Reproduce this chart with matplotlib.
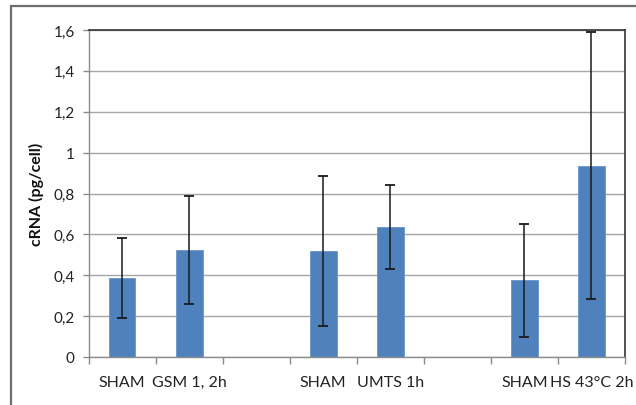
import matplotlib
matplotlib.use("Agg")
import matplotlib.pyplot as plt
from matplotlib.patches import Rectangle
from matplotlib.ticker import FixedLocator, FuncFormatter

# Group labels along the x axis (blank slots separate the three experiments)
categories = ["SHAM", "GSM 1, 2h", "", "SHAM", "UMTS 1h", "", "SHAM", "HS 43°C 2h"]
# Mean cRNA per cell and its error (None = empty slot)
means = [0.385, 0.525, None, 0.52, 0.635, None, 0.375, 0.935]
errors = [0.195, 0.265, None, 0.367, 0.205, None, 0.277, 0.653]
y_ticks = [0, 0.2, 0.4, 0.6, 0.8, 1.0, 1.2, 1.4, 1.6]

plt.rcParams["font.family"] = ["Lato", "DejaVu Sans"]

fig = plt.figure(figsize=(6.36, 4.06), dpi=100)
fig.patch.set_facecolor("white")
# outer chart frame
fig.add_artist(Rectangle((11 / 636, -0.05), 1.2, 1 - 7 / 406 + 0.05,
                         transform=fig.transFigure, fill=False,
                         edgecolor="#6e6e6e", linewidth=1.6))

ax = fig.add_axes([88.5 / 636, 1 - 358 / 406, (625 - 88.5) / 636, (358 - 31) / 406])

xs = [i for i, m in enumerate(means) if m is not None]
vals = [m for m in means if m is not None]
errs = [e for e in errors if e is not None]

ax.bar(xs, vals, width=0.4, color="#4F81BD", edgecolor="#6a95c9",
       linewidth=0.6, zorder=2)
ax.errorbar(xs, vals, yerr=errs, fmt="none", ecolor="#1a1a1a",
            elinewidth=1.1, capsize=3.5, capthick=1.3, zorder=3)

ax.set_xlim(-0.5, len(categories) - 0.5)
ax.set_ylim(0, 1.6)
ax.yaxis.set_major_locator(FixedLocator(y_ticks))
ax.yaxis.set_major_formatter(FuncFormatter(
    lambda v, p: ("%g" % round(v, 1)).replace(".", ",")))
ax.grid(axis="y", color="#a6a6a6", linewidth=1.0, zorder=0)
ax.set_axisbelow(True)

# category boundary ticks, labels at category centres
ax.set_xticks([i - 0.5 for i in range(len(categories) + 1)])
ax.set_xticklabels([])
ax.set_xticks(range(len(categories)), minor=True)
ax.set_xticklabels(categories, minor=True, fontsize=11.5, color="#222222")
ax.tick_params(axis="x", which="minor", length=0, pad=13)
ax.tick_params(axis="x", which="major", length=5, color="#8c8c8c", width=1)
ax.tick_params(axis="y", length=4, color="#8c8c8c", width=1,
               labelsize=11, labelcolor="#222222", pad=6)

for side in ("left", "bottom"):
    ax.spines[side].set_color("#8c8c8c")
    ax.spines[side].set_linewidth(1.0)
for side in ("top", "right"):
    ax.spines[side].set_color("#333333")
    ax.spines[side].set_linewidth(1.2)

ax.set_ylabel("cRNA (pg/cell)", fontsize=11.5, fontweight="bold",
              color="#111111", labelpad=7)

fig.savefig("out.png", dpi=100)
